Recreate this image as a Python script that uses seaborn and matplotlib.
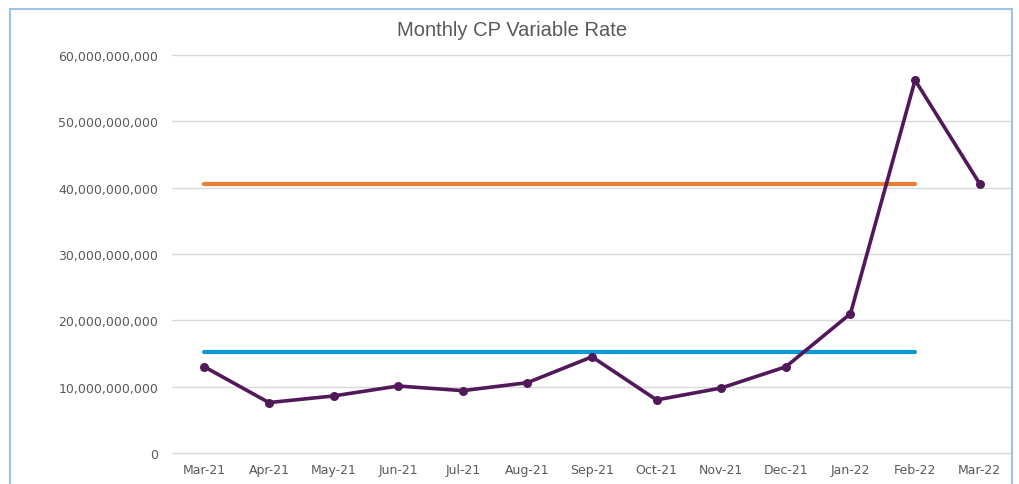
import numpy as np
import pandas as pd
import matplotlib
matplotlib.use("Agg")
import matplotlib.pyplot as plt
import matplotlib.ticker as mticker
from matplotlib.patches import Rectangle
import seaborn as sns

months = ["Mar-21", "Apr-21", "May-21", "Jun-21", "Jul-21", "Aug-21", "Sep-21",
          "Oct-21", "Nov-21", "Dec-21", "Jan-22", "Feb-22", "Mar-22"]
rate = [13.0e9, 7.6e9, 8.6e9, 10.1e9, 9.4e9, 10.6e9, 14.5e9,
        8.0e9, 9.8e9, 13.0e9, 21.0e9, 56.2e9, 40.6e9]
upper_level = 40.6e9
lower_level = 15.3e9
ref_months = months[:-1]  # the reference lines stop at Feb-22

sns.set_theme(style="white")
plt.rcParams['font.family'] = ['DejaVu Sans']

df = pd.DataFrame({"idx": np.arange(len(months)), "rate": rate})
ref = pd.DataFrame({"idx": np.arange(len(ref_months)),
                    "upper": upper_level, "lower": lower_level})

fig = plt.figure(figsize=(10.19, 4.85), dpi=100)
ax = fig.add_axes([172 / 1019, 1 - 454 / 485, 840 / 1019, 398 / 485])

sns.lineplot(data=ref, x="idx", y="upper", ax=ax, color="#ED7D31", linewidth=3)
sns.lineplot(data=ref, x="idx", y="lower", ax=ax, color="#0A9AD8", linewidth=3)
sns.lineplot(data=df, x="idx", y="rate", ax=ax, color="#52195A", linewidth=2.6,
             marker="o", markersize=6.5, markeredgewidth=0)

ax.set_xlim(-0.5, len(months) - 0.5)
ax.set_ylim(0, 60e9)
ax.set_yticks(np.arange(0, 60e9 + 1, 10e9))
ax.yaxis.set_major_formatter(mticker.FuncFormatter(lambda v, p: f"{v:,.0f}"))
ax.set_xticks(np.arange(len(months)))
ax.set_xticklabels(months)
ax.tick_params(axis="both", labelsize=9, labelcolor="#595959", length=0)
ax.tick_params(axis="y", pad=10)
ax.tick_params(axis="x", pad=7)
ax.grid(axis="y", color="#D9D9D9", linewidth=1)
for gl in ax.get_ygridlines():
    gl.set_clip_on(False)
ax.set_axisbelow(True)
for s in ax.spines.values():
    s.set_visible(False)
ax.set_xlabel("")
ax.set_ylabel("")

fig.text(512 / 1019, 1 - 30 / 485, "Monthly CP Variable Rate", ha="center", va="center",
         fontsize=14.5, color="#595959", family=["Liberation Sans", "DejaVu Sans"])

fig.patches.append(Rectangle((10 / 1019, -0.05), 1002 / 1019, 1.05 - 10 / 485,
                             transform=fig.transFigure, fill=False,
                             edgecolor="#9DC3E6", linewidth=1.5))

fig.savefig("out.png", dpi=100)
